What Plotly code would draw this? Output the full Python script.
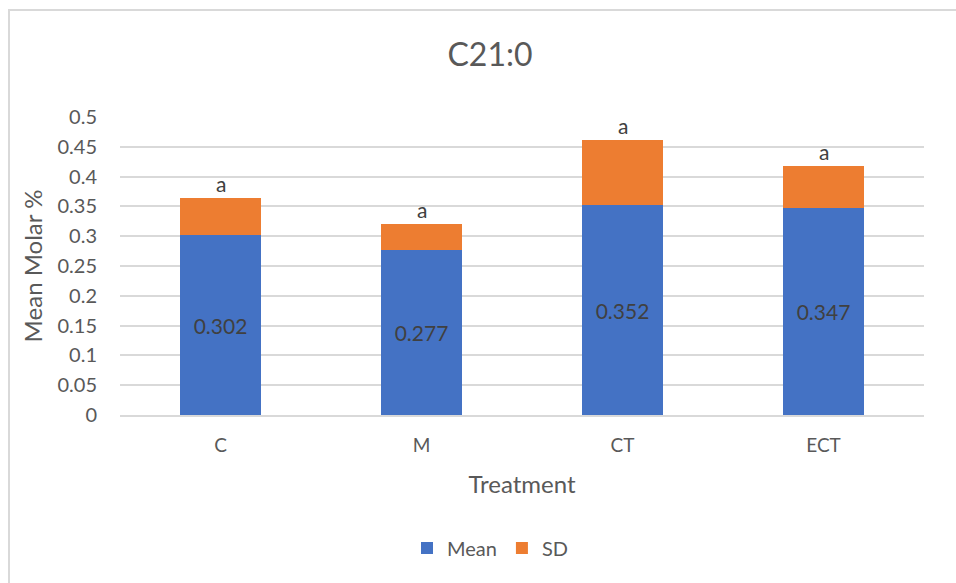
import plotly.graph_objects as go

categories = ["C", "M", "CT", "ECT"]
mean_vals = [0.302, 0.277, 0.352, 0.347]
sd_vals = [0.062, 0.043, 0.109, 0.070]
sig_letters = ["a", "a", "a", "a"]
y_tick_vals = [0, 0.05, 0.1, 0.15, 0.2, 0.25, 0.3, 0.35, 0.4, 0.45, 0.5]
y_tick_text = ["0", "0.05", "0.1", "0.15", "0.2", "0.25", "0.3", "0.35", "0.4", "0.45", "0.5"]

FONT = "Lato, Calibri, Carlito, sans-serif"
GRAY = "#595959"

fig = go.Figure()
fig.add_trace(go.Bar(
    name="Mean", x=categories, y=mean_vals,
    marker=dict(color="#4472C4", line=dict(width=0)),
    text=[f"{v:.3f}" for v in mean_vals], textposition="inside",
    insidetextanchor="middle",
    textfont=dict(size=21, color="#404040", family=FONT),
))
fig.add_trace(go.Bar(
    name="SD", x=categories, y=sd_vals,
    marker=dict(color="#ED7D31", line=dict(width=0)),
))

for c, m, s, t in zip(categories, mean_vals, sd_vals, sig_letters):
    fig.add_annotation(x=c, y=m + s, text=t, showarrow=False,
                       yanchor="bottom", yshift=0,
                       font=dict(size=21, color="#404040", family=FONT))

fig.add_shape(type="rect", xref="paper", yref="paper",
              x0=(9 - 120) / 804, x1=(980 - 120) / 804,
              y0=(415 - 600) / 298, y1=(415 - 10) / 298,
              line=dict(color="#D9D9D9", width=2), fillcolor="rgba(0,0,0,0)",
              layer="below")

fig.update_layout(
    barmode="stack",
    bargap=0.6,
    width=956, height=583,
    margin=dict(l=120, r=32, t=117, b=168),
    paper_bgcolor="white", plot_bgcolor="white",
    font=dict(family=FONT, color=GRAY, size=19),
    title=dict(text="C21:0", x=(490 - 120) / 804, xref="paper", xanchor="center",
               y=1 - 55 / 583, yanchor="middle",
               font=dict(size=32, color=GRAY, family=FONT)),
    legend=dict(orientation="h", x=(490 - 120) / 804, xanchor="center",
                y=(415 - 548) / 298, yanchor="middle",
                font=dict(size=20, color=GRAY, family=FONT),
                itemwidth=30, traceorder="normal"),
    showlegend=True,
    xaxis=dict(title=dict(text="Treatment", standoff=22,
                          font=dict(size=24, color=GRAY, family=FONT)),
               showgrid=False, showline=True, linecolor="#D9D9D9", linewidth=1.5,
               ticks="", ticklabelstandoff=12,
               tickfont=dict(size=19, color=GRAY, family=FONT)),
    yaxis=dict(title=dict(text="Mean Molar %", standoff=8,
                          font=dict(size=24, color=GRAY, family=FONT)),
               range=[0, 0.5], tickvals=y_tick_vals, ticktext=y_tick_text,
               showgrid=True, gridcolor="#D9D9D9", gridwidth=1.5,
               zeroline=False, showline=False, ticks="",
               ticklabelstandoff=22,
               tickfont=dict(size=20, color=GRAY, family=FONT)),
)

fig.write_html("out.html", config={"displayModeBar": False},
               post_script="document.body.style.margin='0';document.body.style.overflow='hidden';")
